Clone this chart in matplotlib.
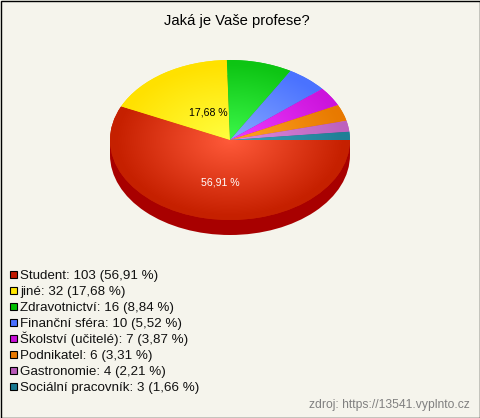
import numpy as np
import matplotlib
matplotlib.use('Agg')
import matplotlib.pyplot as plt
from matplotlib.colors import LinearSegmentedColormap
from matplotlib.patches import Ellipse, Rectangle

plt.rcParams['font.family'] = ['Liberation Sans', 'DejaVu Sans']

categories = ['Student', 'jiné', 'Zdravotnictví', 'Finanční sféra', 'Školství (učitelé)',
              'Podnikatel', 'Gastronomie', 'Sociální pracovník']
counts = [103, 32, 16, 10, 7, 6, 4, 3]
percents = ['56,91', '17,68', '8,84', '5,52', '3,87', '3,31', '2,21', '1,66']
edge_colors = ['#c62000', '#ffe100', '#0ec514', '#4a72ff', '#cc14dc', '#e87a00', '#bd62bd', '#1f7f96']
center_colors = ['#ff5a3a', '#ffff40', '#3cf84a', '#86a8ff', '#ee3cff', '#ffa424', '#dc8ce0', '#3ca4bc']
legend_colors = ['#c01800', '#ffe600', '#00c000', '#4a70ff', '#c810d8', '#e87800', '#b858b8', '#187890']

BG = '#f5f4ec'
SIDE = '#a80000'
W, H = 480, 418
CX, CY, RX, RY, DEPTH = 230, 140, 120, 80, 15

fig = plt.figure(figsize=(W / 100, H / 100), dpi=100, facecolor=BG)

# pie axes stretched so that the unit circle becomes the ellipse
pie_ax = fig.add_axes([(CX - RX) / W, 1 - (CY + RY + DEPTH) / H, 2 * RX / W, (2 * RY + DEPTH) / H])
bottom = -1 - DEPTH / RY

# side of the pie, only the student slice shows at the front
pie_ax.add_patch(Ellipse((0, -DEPTH / RY), 2, 2, color=SIDE, lw=0, zorder=1))
pie_ax.add_patch(Rectangle((-1, -DEPTH / RY), 2, DEPTH / RY, color=SIDE, lw=0, zorder=1))

wedges, _ = pie_ax.pie(counts, startangle=0, counterclock=False, radius=1, center=(0, 0),
                       colors=edge_colors, wedgeprops={'linewidth': 0, 'zorder': 2})

xx, yy = np.meshgrid(np.linspace(-1, 1, 480), np.linspace(-1, 1, 320))
rr = np.sqrt(xx ** 2 + yy ** 2)
for wedge, c0, c1 in zip(wedges, center_colors, edge_colors):
    cmap = LinearSegmentedColormap.from_list('w', [c0, c1])
    im = pie_ax.imshow(rr, cmap=cmap, vmin=0, vmax=0.95, extent=(-1, 1, -1, 1), origin='lower',
                       aspect='auto', zorder=3, interpolation='bilinear')
    im.set_clip_path(wedge)

pie_ax.set_aspect('auto')
pie_ax.set_xlim(-1, 1)
pie_ax.set_ylim(bottom, 1)
pie_ax.axis('off')

# overlay in pixel coordinates for the texts and the frame
top = fig.add_axes([0, 0, 1, 1])
top.set_xlim(0, W)
top.set_ylim(H, 0)
top.axis('off')
top.patch.set_alpha(0)

top.text(237, 21, 'Jaká je Vaše profese?', fontsize=10.6, ha='center', va='center', color='black')
top.text(220, 182.5, percents[0] + ' %', fontsize=7.6, ha='center', va='center', color='white')
top.text(208.5, 112.5, percents[1] + ' %', fontsize=7.6, ha='center', va='center', color='black')

for i, (cat, n, pct, col) in enumerate(zip(categories, counts, percents, legend_colors)):
    y = 274 + i * 16
    top.add_patch(Rectangle((9.5, y - 3.5), 7, 7, facecolor=col, edgecolor='black', lw=0.8))
    top.text(20, y + 5, f'{cat}: {n} ({pct} %)', fontsize=9.6, ha='left', va='baseline', color='#111111')

top.text(470, 405, 'zdroj: https://13541.vyplnto.cz', fontsize=8.75, ha='right', va='center', color='#808080')

top.add_patch(Rectangle((0.5, 0.5), W - 1, H - 1, facecolor='none', edgecolor='black', lw=1))

fig.savefig('out.png', dpi=100, facecolor=BG)
